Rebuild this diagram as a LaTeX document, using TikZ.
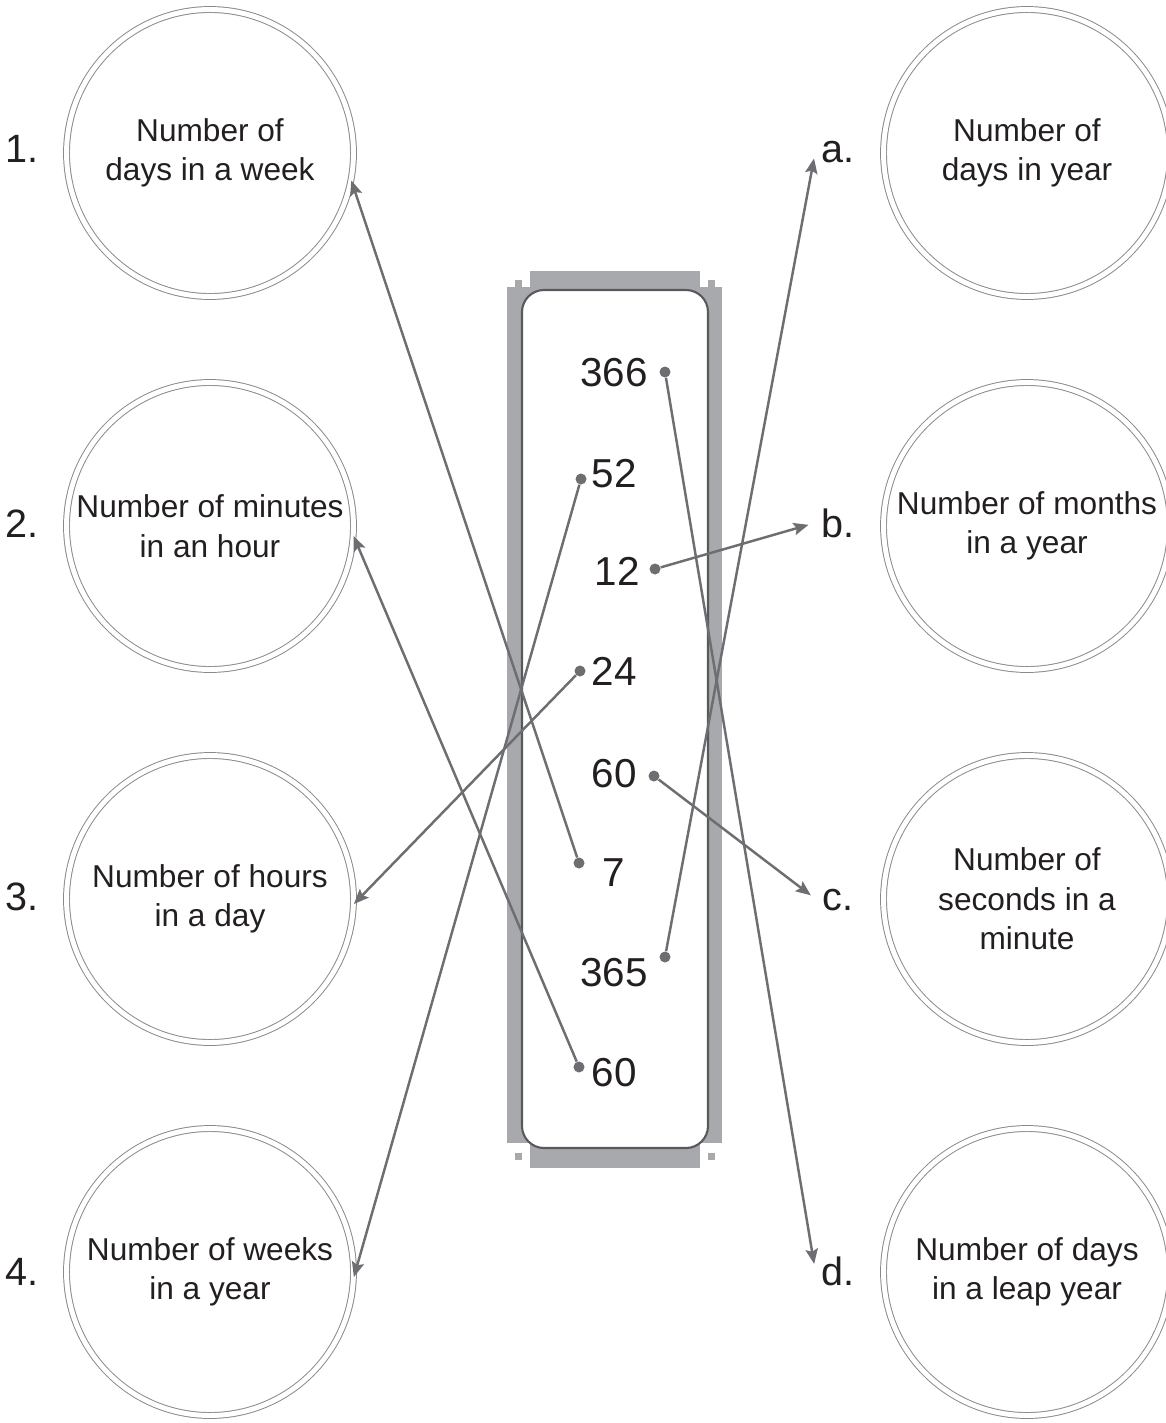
\documentclass[tikz,border=0pt]{standalone}
\usepackage{fontspec}
\setmainfont{Liberation Sans}
\usetikzlibrary{arrows.meta}
\definecolor{ringgray}{HTML}{8A8A8A}
\definecolor{linegray}{HTML}{6D6E71}
\definecolor{framegray}{HTML}{A7A9AC}
\definecolor{boxgray}{HTML}{58595B}
\definecolor{inkblack}{HTML}{231F20}
\begin{document}
\begin{tikzpicture}[x=0.02cm, y=-0.02cm,
  bubble/.style={circle, draw=ringgray, line width=0.55pt, double=white, double distance=2.8pt,
    minimum size=5.74cm, inner sep=0pt, align=center, text=inkblack, font=\fontsize{18}{22.5}\selectfont},
  num/.style={anchor=base, text=inkblack, font=\fontsize{23}{27}\selectfont},
  tag/.style={anchor=base, text=inkblack, font=\fontsize{22.5}{27}\selectfont},
  dot/.style={circle, fill=linegray, inner sep=0pt, minimum size=0.22cm},
  link/.style={draw=linegray, line width=1.4pt, -{Stealth[length=8.5pt,width=7pt,inset=1.5pt]}}]
\clip (0,0) rectangle (1166,1423);

% frame round the numbers
\fill[framegray] (507,287) rectangle (722,1143);
\fill[framegray] (530,271) rectangle (700,1168);
\foreach \x/\y in {515/280, 708/280, 515/1153, 708/1153}
  \fill[framegray] (\x,\y) rectangle ++(7,7);
\draw[boxgray, line width=1.2pt, fill=white, rounded corners=0.44cm] (522,290) rectangle (708,1148);

% left column
\node[bubble] (c1) at (210,153) {Number of\\days in a week};
\node[bubble] (c2) at (210,526) {Number of minutes\\in an hour};
\node[bubble] (c3) at (210,899) {Number of hours\\in a day};
\node[bubble] (c4) at (210,1272) {Number of weeks\\in a year};
\node[tag] (l1) at (22,162) {1.};
\node[tag] (l2) at (22,537) {2.};
\node[tag] (l3) at (22,910) {3.};
\node[tag] (l4) at (22,1285) {4.};

% right column
\node[bubble] (ca) at (1027,153) {Number of\\days in year};
\node[bubble] (cb) at (1027,526) {Number of months\\in a year};
\node[bubble] (cc) at (1027,899) {Number of\\seconds in a\\minute};
\node[bubble] (cd) at (1027,1272) {Number of days\\in a leap year};
\node[tag] (la) at (838,162) {a.};
\node[tag] (lb) at (838,537) {b.};
\node[tag] (lc) at (838,910) {c.};
\node[tag] (ld) at (838,1285) {d.};

% numbers
\node[num] (n366) at (614,386) {366};
\node[num] (n52) at (614,487) {52};
\node[num] (n12) at (617,585) {12};
\node[num] (n24) at (614,685) {24};
\node[num] (n60a) at (614,787) {60};
\node[num] (n7) at (614,886) {7};
\node[num] (n365) at (614,986) {365};
\node[num] (n60b) at (614,1086) {60};

\node[dot] (d366) at (665,372) {};
\node[dot] (d52) at (581,479) {};
\node[dot] (d12) at (655,569) {};
\node[dot] (d24) at (580,671) {};
\node[dot] (d60a) at (654,776) {};
\node[dot] (d7) at (579,863) {};
\node[dot] (d365) at (665,957) {};
\node[dot] (d60b) at (579,1067) {};

\draw[link] (d7) -- (c1.-11);
\draw[link] (d60b) -- (c2.-4);
\draw[link] (d24) -- (c3.-2);
\draw[link] (d52) -- (c4.-2);
\draw[link, shorten >=4pt] (d365) -- (la.west);
\draw[link, shorten >=4pt] (d12) -- (lb.west);
\draw[link, shorten >=4pt] (d60a) -- (lc.west);
\draw[link, shorten >=4pt] (d366) -- (ld.west);
\end{tikzpicture}
\end{document}
